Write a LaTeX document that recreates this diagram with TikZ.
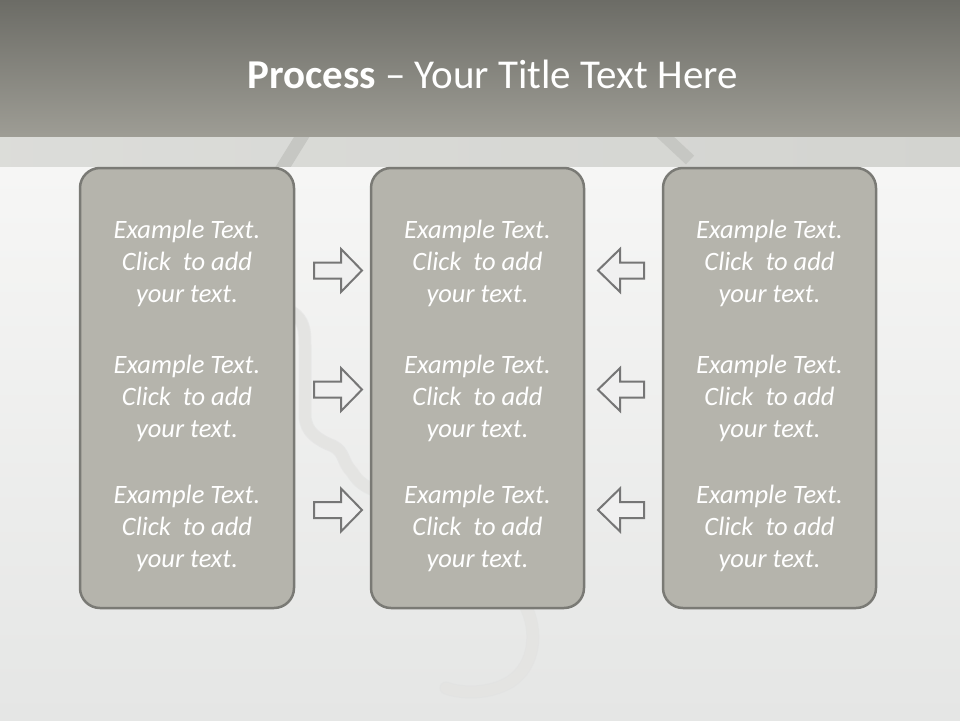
\documentclass[tikz,border=0pt]{standalone}
\usepackage{fontspec}
\setmainfont{Carlito}
\usetikzlibrary{calc}
\definecolor{bandtop}{HTML}{6C6C66}
\definecolor{bandbot}{HTML}{9E9D95}
\definecolor{stripc}{HTML}{D3D4D0}
\definecolor{bgtop}{HTML}{F7F7F6}
\definecolor{bgbot}{HTML}{E5E6E5}
\definecolor{boxfill}{HTML}{B5B4AC}
\definecolor{boxline}{HTML}{7A7A75}
\definecolor{arrowfill}{HTML}{F0F0F0}
\definecolor{arrowline}{HTML}{767676}
\definecolor{wirec}{HTML}{E4E4E2}
\definecolor{wirestrip}{HTML}{C6C7C3}
\tikzset{
  panel/.style={draw=boxline, line width=2.5pt, fill=boxfill, rounded corners=20pt},
  blockarrow/.style={draw=arrowline, line width=2pt, fill=arrowfill, line join=miter},
  bodytext/.style={text=white, align=center, inner sep=0pt,
    font=\itshape\fontsize{26.5}{32}\selectfont},
  wire/.style={draw=wirec, line width=11pt, line cap=round, line join=round},
  wireedge/.style={draw=black!12, line width=13pt, line cap=round, line join=round, opacity=0.5}
}
\newcommand{\extext}{Example Text.\\Click\ \ to add\\your text.}
\begin{document}
\begin{tikzpicture}[x=1pt,y=-1pt]
\useasboundingbox (0,0) rectangle (960,720);
% background
\shade[top color=bgtop, bottom color=bgbot] (0,137) rectangle (960,720);
% band + strip
\shade[top color=bandtop, bottom color=bandbot] (0,0) rectangle (960,137);
\shade[left color=stripc!80!white, right color=stripc] (0,137) rectangle (960,166);
% wire pieces seen in the strip
\begin{scope}
  \clip (0,137) rectangle (960,166);
  \draw[draw=wirestrip, line width=13pt] (306,130) -- (280,172);
  \draw[draw=wirestrip, line width=12pt] (660,132) -- (690,160);
\end{scope}
% wire (background decoration)
\draw[wireedge] (292,312) .. controls (304,320) and (305,330) .. (305,345) -- (305,415)
  .. controls (305,432) and (318,440) .. (333,446)
  .. controls (345,452) and (342,462) .. (352,472)
  .. controls (358,482) and (366,488) .. (380,492);
\draw[wire] (292,312) .. controls (304,320) and (305,330) .. (305,345) -- (305,415)
  .. controls (305,432) and (318,440) .. (333,446)
  .. controls (345,452) and (342,462) .. (352,472)
  .. controls (358,482) and (366,488) .. (380,492);
\draw[wireedge] (525,605) .. controls (538,630) and (536,665) .. (510,682)
  .. controls (490,694) and (462,694) .. (446,688);
\draw[wire] (525,605) .. controls (538,630) and (536,665) .. (510,682)
  .. controls (490,694) and (462,694) .. (446,688);
% panels
\path[panel] (80,168) rectangle (294,608);
\path[panel] (371,168) rectangle (584,608);
\path[panel] (663,168) rectangle (876,608);
% texts
\foreach \col/\cx in {1/187,2/477.5,3/769.5}{
  \foreach \row/\cy in {1/263,2/398,3/528}{
    \node[bodytext] (t\col\row) at (\cx,\cy) {\extext};
  }
}
% arrows
\foreach \i/\ay in {1/270.5,2/389.5,3/510}{
  \coordinate (ra\i) at (314,\ay);
  \draw[blockarrow] (ra\i) ++(0,-8) -- ++(27,0) -- ++(0,-13.5) -- ++(21,21.5)
     -- ++(-21,21.5) -- ++(0,-13.5) -- ++(-27,0) -- cycle;
  \coordinate (la\i) at (644,\ay);
  \draw[blockarrow] (la\i) ++(0,-8) -- ++(-24,0) -- ++(0,-13.5) -- ++(-22,21.5)
     -- ++(22,21.5) -- ++(0,-13.5) -- ++(24,0) -- cycle;
}
% title
\node[text=white, anchor=base, inner sep=0pt, font=\fontsize{41}{48}\selectfont] (title) at (492.5,88)
  {\textbf{Process} – Your Title Text Here};
\end{tikzpicture}
\end{document}
